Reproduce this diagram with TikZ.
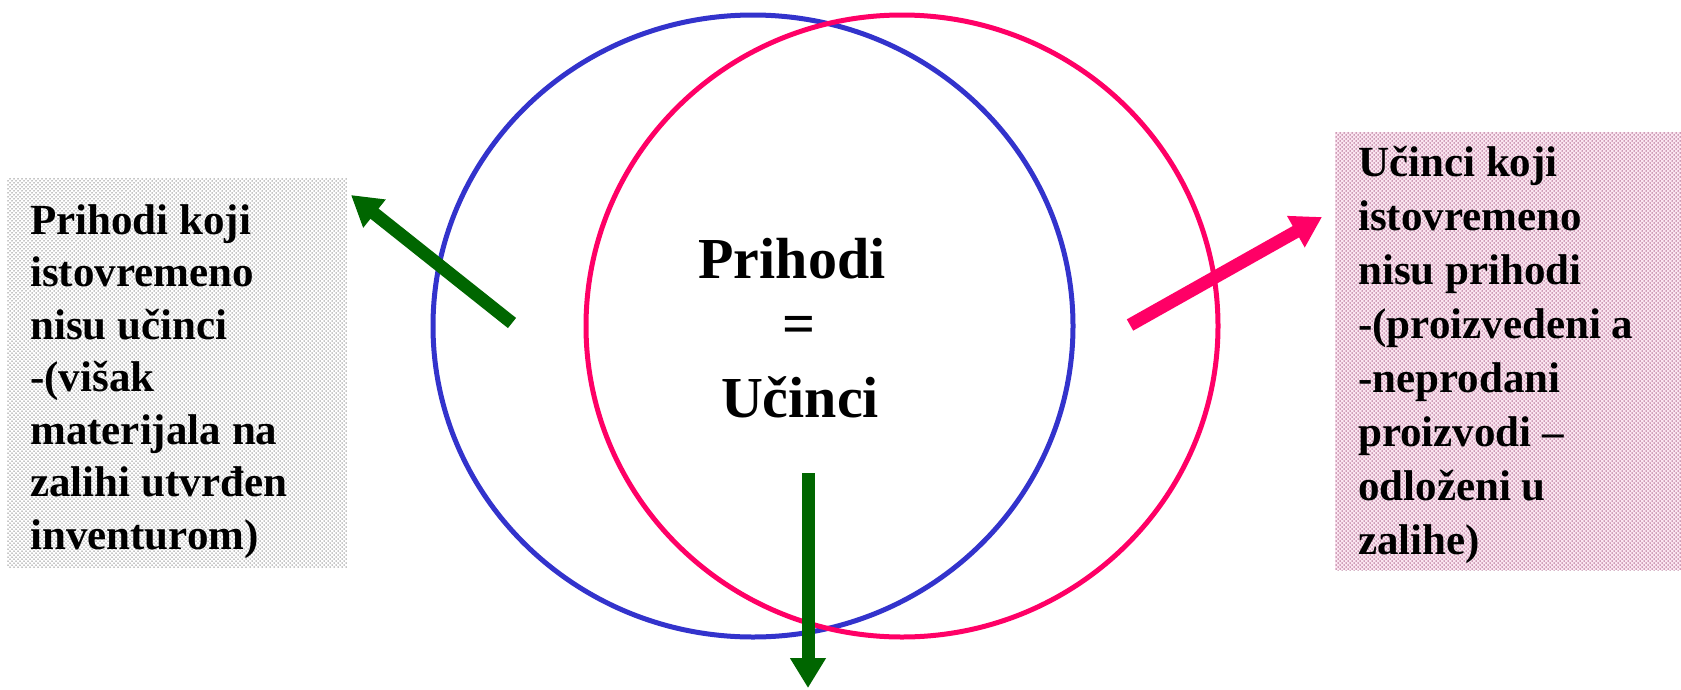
\documentclass[tikz,border=0pt]{standalone}
\usepackage{fontspec}
\setmainfont{Liberation Serif}
\usetikzlibrary{arrows.meta,patterns,shapes.geometric}
\definecolor{cblue}{HTML}{3333CC}
\definecolor{cpink}{HTML}{FF0066}
\definecolor{cgreen}{HTML}{006600}
\definecolor{greydot}{HTML}{8A8A8A}
\definecolor{pinkbg}{HTML}{FBE6F1}
\definecolor{pinkdot}{HTML}{A0507A}
\pgfdeclarepatternformonly{boxdots}{\pgfpoint{-1pt}{-1pt}}{\pgfpoint{3pt}{3pt}}{\pgfpoint{4pt}{4pt}}{%
  \pgfpathcircle{\pgfpoint{0pt}{0pt}}{0.75pt}%
  \pgfpathcircle{\pgfpoint{2pt}{2pt}}{0.75pt}%
  \pgfusepath{fill}}
\newcommand{\firstline}{\rule{0pt}{30pt}}
\tikzset{
  setring/.style={ellipse, draw, line width=5pt, inner sep=0pt},
  boxtext/.style={anchor=north west, align=left, inner sep=0pt},
  bigtext/.style={anchor=base, inner sep=0pt, font=\bfseries\fontsize{58}{70}\selectfont},
  fatarrow/.style={line width=13pt, -{Triangle[width=34pt,length=30pt]}},
}
\begin{document}
\begin{tikzpicture}[x=1pt,y=-1pt]
\useasboundingbox (0,0) rectangle (1681,689);
\fill[white] (0,0) rectangle (1681,689);
% dotted boxes
\fill[white] (7,178) rectangle (347,567);
\fill[pattern=boxdots, pattern color=greydot] (7,178) rectangle (347,567);
\fill[pinkbg] (1335,132) rectangle (1681,570);
\fill[pattern=boxdots, pattern color=pinkdot] (1335,132) rectangle (1681,570);
% sets
\node[setring, draw=cblue, minimum width=640pt, minimum height=622pt] (blueset) at (753,326) {};
\node[setring, draw=cpink, minimum width=632pt, minimum height=622pt] (pinkset) at (902,326) {};
% texts
\node[boxtext, font=\bfseries\fontsize{43}{52.5}\selectfont] (lefttext) at (30,204)
  {\firstline Prihodi koji\\istovremeno\\nisu učinci\\-(višak\\materijala na\\zalihi utvrđen\\inventurom)};
\node[boxtext, font=\bfseries\fontsize{43}{54}\selectfont] (righttext) at (1358,146)
  {\firstline Učinci koji\\istovremeno\\nisu prihodi\\-(proizvedeni a\\-neprodani\\proizvodi –\\odloženi u\\zalihe)};
\node[bigtext] (prihodi) at (792,278) {Prihodi};
\node[bigtext] (eq) at (799,343) {=};
\node[bigtext] (ucinci) at (800,417) {Učinci};
% arrows
\coordinate (gla) at (512,323);
\coordinate (glb) at (351,195);
\coordinate (pka) at (1130,325);
\coordinate (pkb) at (1322,217);
\coordinate (gda) at (808,473);
\coordinate (gdb) at (808,688);
\draw[fatarrow, cgreen] (gla) -- (glb);
\draw[fatarrow, cpink] (pka) -- (pkb);
\draw[fatarrow, cgreen] (gda) -- (gdb);
\end{tikzpicture}
\end{document}
